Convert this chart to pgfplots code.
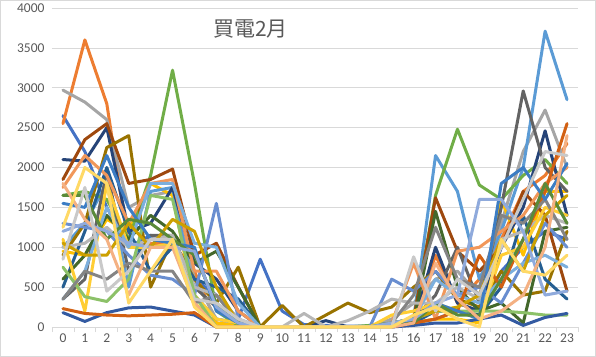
\documentclass[border=0pt]{standalone}
\usepackage{pgfplots}
\usepackage{pgfplotstable}
\pgfplotsset{compat=1.18}
\usepackage{fontspec}
\setmainfont{Carlito}
\newfontfamily\cjk{Noto Sans CJK TC}
\definecolor{c1}{HTML}{4472C4}
\definecolor{c2}{HTML}{ED7D31}
\definecolor{c3}{HTML}{A5A5A5}
\definecolor{c4}{HTML}{FFC000}
\definecolor{c5}{HTML}{5B9BD5}
\definecolor{c6}{HTML}{70AD47}
\definecolor{c7}{HTML}{264478}
\definecolor{c8}{HTML}{9E480E}
\definecolor{c9}{HTML}{636363}
\definecolor{c10}{HTML}{997300}
\definecolor{c11}{HTML}{255E91}
\definecolor{c12}{HTML}{43682B}
\definecolor{c13}{HTML}{698ED0}
\definecolor{c14}{HTML}{F1975A}
\definecolor{c15}{HTML}{B7B7B7}
\definecolor{c16}{HTML}{FFCD33}
\definecolor{c17}{HTML}{7CAFDD}
\definecolor{c18}{HTML}{8CC168}
\definecolor{c19}{HTML}{335AA1}
\definecolor{c20}{HTML}{D26012}
\definecolor{c21}{HTML}{848484}
\definecolor{c22}{HTML}{CCA000}
\definecolor{c23}{HTML}{3C7DC4}
\definecolor{c24}{HTML}{5A8A39}
\definecolor{c25}{HTML}{8FAADC}
\definecolor{c26}{HTML}{F4B183}
\definecolor{c27}{HTML}{C9C9C9}
\definecolor{c28}{HTML}{FFD966}
\definecolor{gridc}{HTML}{D9D9D9}
\definecolor{txt}{HTML}{595959}
\pgfplotstableread{
h s1 s2 s3 s4 s5 s6 s7 s8 s9 s10 s11 s12 s13 s14 s15 s16 s17 s18 s19 s20 s21 s22 s23 s24 s25 s26 s27 s28
0 2650 2550 2970 950 1000 1650 2100 1850 350 900 500 600 1300 1750 1000 1100 350 750 180 230 350 1050 1550 1650 1200 1800 850 1250
1 2200 3600 2820 900 1300 1700 2080 2350 600 1300 1200 900 1250 2150 1050 200 700 380 70 170 700 900 1500 1650 1300 1350 1750 2000
2 1500 2800 2600 1350 1800 1600 2500 2550 1950 2250 2000 1400 1200 1900 1250 1800 1500 320 180 150 600 900 2150 1100 1200 1100 450 1800
3 1000 1000 1500 1200 500 1100 1200 1800 700 2400 1200 1100 900 1300 1000 1000 1000 600 240 140 800 1300 1500 1350 1050 400 700 300
4 1150 1050 1650 1800 1700 1900 1300 1850 1150 500 700 1400 650 1800 1100 1000 1800 1650 250 150 700 1000 1100 1300 1000 1000 1100 700
5 1000 1050 1700 1650 1750 3220 1750 1980 1150 1100 1000 1200 600 1850 1150 1050 1800 1600 200 160 700 1350 1050 1100 1000 1000 1100 1100
6 600 700 600 300 400 1800 800 900 500 600 600 800 400 700 500 400 1050 400 150 180 300 1200 1000 900 950 300 350 250
7 400 50 100 50 100 200 600 1050 250 300 500 950 1550 700 400 100 1000 0 0 0 400 500 200 300 250 0 300 0
8 100 20 50 20 50 20 200 500 50 750 350 500 100 200 100 50 300 0 0 0 50 50 50 50 50 0 100 0
9 850 0 0 0 0 0 0 0 0 0 0 0 0 0 0 0 0 0 0 0 0 0 0 0 0 0 0 0
10 200 0 0 0 0 0 0 0 0 270 0 0 0 0 0 0 0 0 0 0 0 0 0 0 0 0 0 0
11 30 0 0 0 0 0 0 0 0 0 0 0 0 0 170 0 0 0 0 0 0 0 0 0 0 0 0 0
12 20 0 0 0 0 0 80 0 0 150 0 0 0 0 0 0 0 0 0 0 0 0 0 0 0 0 0 0
13 10 0 0 0 0 0 0 0 0 300 0 0 0 0 80 0 0 0 0 0 0 0 0 0 0 0 0 0
14 10 0 0 0 0 20 0 0 0 180 0 0 0 0 200 0 0 0 0 0 0 0 0 0 0 0 0 0
15 30 20 100 30 50 50 20 50 50 250 20 20 600 50 350 150 50 50 0 0 50 20 20 20 50 0 0 0
16 50 50 300 50 100 100 50 100 100 500 50 50 450 800 300 200 100 100 20 50 400 100 100 50 100 50 880 150
17 100 900 600 100 2150 1650 1000 1620 400 700 200 1450 700 100 300 300 600 200 50 100 1250 200 300 300 300 800 200 250
18 200 300 700 100 1700 2480 300 950 1000 350 200 500 400 950 500 200 400 200 50 200 600 250 200 150 400 350 600 100
19 150 600 400 50 600 1780 200 700 300 250 150 200 500 1000 350 100 300 200 100 900 500 400 100 150 1600 100 400 0
20 700 1100 1300 1600 1200 1600 1000 1000 1500 700 500 300 300 1200 1100 900 600 200 150 500 1400 1100 1800 600 1600 200 1000 1100
21 1000 1700 2200 900 2000 1900 1500 1700 2960 400 1400 50 800 1400 1200 1000 800 180 20 1100 1300 700 2000 1100 1200 400 1600 700
22 1200 1900 2720 1700 3710 2100 2460 1400 2000 450 600 1200 1300 1800 1400 1500 900 150 120 1700 1600 1400 1600 1800 400 1000 2200 650
23 1100 2300 2000 1700 2850 1800 1400 450 1700 1200 350 1250 1000 2000 1300 1400 750 150 170 2550 1100 1650 2050 1300 450 2400 2150 900
}\datatable
\begin{document}
\begin{tikzpicture}
\useasboundingbox (0,0) rectangle (596bp,357bp);
\draw[gridc, line width=0.75bp] (0.4bp,0.4bp) rectangle (595.6bp,356.6bp);
\begin{axis}[
  at={(52bp,30bp)}, anchor=south west,
  scale only axis, width=526bp, height=319bp,
  xmin=-0.5, xmax=23.5, ymin=0, ymax=4000,
  xtick={0,...,23},
  minor xtick={-0.5,0.5,...,23.5},
  ytick={0,500,...,4000},
  major tick length=0pt,
  minor tick length=5bp,
  tick align=outside,
  xtick pos=lower, ytick pos=left,
  minor tick style={gridc, line width=0.75bp},
  ymajorgrids, grid style={gridc, line width=0.75bp},
  axis line style={draw=none},
  tick label style={font=\fontsize{13.5bp}{15bp}\selectfont, text=txt},
  /pgf/number format/assume math mode=true,
  /pgf/number format/set thousands separator={},
  xticklabel style={yshift=-3bp},
  yticklabel style={xshift=-4bp},
  every axis plot/.append style={line width=3bp, line join=round, line cap=round, no markers},
  clip=false,
]
\foreach \i in {1,...,28} {
  \edef\tmp{\noexpand\addplot[color=c\i] table[x=h, y=s\i] {\noexpand\datatable};}
  \tmp
}
\node[font=\cjk\fontsize{21bp}{23bp}\selectfont, text=txt, anchor=west] at (axis cs:6.7,3740) {買電2月};
\end{axis}
\end{tikzpicture}
\end{document}
